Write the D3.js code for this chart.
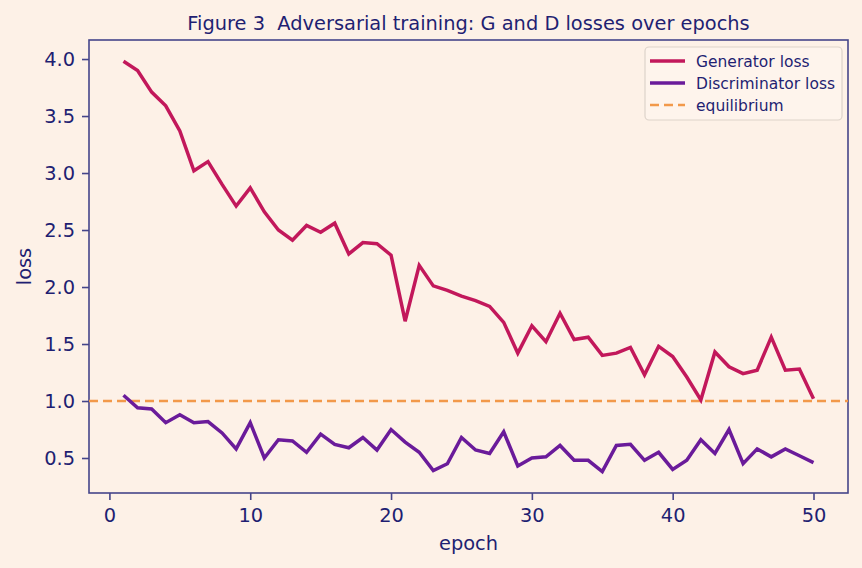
<!DOCTYPE html>
<html>
<head>
<meta charset="utf-8">
<script src="https://cdn.jsdelivr.net/npm/d3@7"></script>
<style>
  html, body { margin: 0; padding: 0; background: #fdf1e7; }
  svg { display: block; font-family: "DejaVu Sans", sans-serif; }
</style>
</head>
<body>
<svg id="chart" width="862" height="568"></svg>
<script>
const epochs = d3.range(1, 51);
const generatorLoss = [3.98, 3.90, 3.71, 3.59, 3.37, 3.02, 3.10, 2.90, 2.71, 2.87,
  2.66, 2.50, 2.41, 2.54, 2.48, 2.56, 2.29, 2.39, 2.38, 2.28,
  1.70, 2.19, 2.01, 1.97, 1.92, 1.88, 1.83, 1.69, 1.42, 1.66,
  1.52, 1.77, 1.54, 1.56, 1.40, 1.42, 1.47, 1.23, 1.48, 1.39,
  1.21, 1.01, 1.43, 1.30, 1.24, 1.27, 1.56, 1.27, 1.28, 1.02];
const discriminatorLoss = [1.05, 0.94, 0.93, 0.81, 0.88, 0.81, 0.82, 0.72, 0.58, 0.81,
  0.50, 0.66, 0.65, 0.55, 0.71, 0.62, 0.59, 0.68, 0.57, 0.75,
  0.64, 0.55, 0.39, 0.45, 0.68, 0.57, 0.54, 0.73, 0.43, 0.50,
  0.51, 0.61, 0.48, 0.48, 0.38, 0.61, 0.62, 0.48, 0.55, 0.40,
  0.48, 0.66, 0.54, 0.75, 0.45, 0.58, 0.51, 0.58, 0.52, 0.46];
const equilibrium = 1.0;
const xTicks = [0, 10, 20, 30, 40, 50];
const yTicks = [0.5, 1.0, 1.5, 2.0, 2.5, 3.0, 3.5, 4.0];
const seriesNames = ["Generator loss", "Discriminator loss", "equilibrium"];
const titleText = "Figure 3  Adversarial training: G and D losses over epochs";

const W = 862, H = 568;
const m = { left: 89, right: 848, top: 40, bottom: 493 };
const textColor = "#1f1f72";
const spineColor = "#45458a";
const genColor = "#c2185b";
const discColor = "#6a1b9a";
const eqColor = "#f2994a";
const bg = "#fdf1e7";

const svg = d3.select("#chart");
svg.append("rect").attr("width", W).attr("height", H).attr("fill", bg);

const x = d3.scaleLinear().domain([-1.45, 52.45]).range([m.left, m.right]);
const y = d3.scaleLinear().domain([0.193, 4.167]).range([m.bottom, m.top]);

// axes
const xAxis = d3.axisBottom(x).tickValues(xTicks).tickFormat(d3.format("d")).tickSize(7).tickPadding(8);
const yAxis = d3.axisLeft(y).tickValues(yTicks).tickFormat(d3.format(".1f")).tickSize(7).tickPadding(7);

const gx = svg.append("g").attr("transform", `translate(0,${m.bottom})`).call(xAxis);
const gy = svg.append("g").attr("transform", `translate(${m.left},0)`).call(yAxis);
[gx, gy].forEach(g => {
  g.select(".domain").remove();
  g.selectAll(".tick line").attr("stroke", spineColor).attr("stroke-width", 1.6);
  g.selectAll(".tick text").attr("fill", textColor).style("font-size", "19.4px")
    .style("font-family", "DejaVu Sans, sans-serif");
});

// frame
svg.append("rect")
  .attr("x", m.left).attr("y", m.top)
  .attr("width", m.right - m.left).attr("height", m.bottom - m.top)
  .attr("fill", "none").attr("stroke", spineColor).attr("stroke-width", 1.6);

// clip
svg.append("clipPath").attr("id", "clip").append("rect")
  .attr("x", m.left).attr("y", m.top).attr("width", m.right - m.left).attr("height", m.bottom - m.top);
const plot = svg.append("g").attr("clip-path", "url(#clip)");

// equilibrium
plot.append("line")
  .attr("x1", m.left).attr("x2", m.right)
  .attr("y1", y(equilibrium)).attr("y2", y(equilibrium))
  .attr("stroke", eqColor).attr("stroke-width", 2.4).attr("stroke-dasharray", "9,5");

const line = d3.line().x((d, i) => x(epochs[i])).y(d => y(d));
plot.append("path").datum(discriminatorLoss).attr("d", line)
  .attr("fill", "none").attr("stroke", discColor).attr("stroke-width", 3.5).attr("stroke-linejoin", "miter");
plot.append("path").datum(generatorLoss).attr("d", line)
  .attr("fill", "none").attr("stroke", genColor).attr("stroke-width", 3.5).attr("stroke-linejoin", "miter");

// title & labels
svg.append("text").attr("x", (m.left + m.right) / 2).attr("y", 30)
  .attr("text-anchor", "middle").attr("fill", textColor).style("font-size", "19.4px")
  .style("white-space", "pre").attr("xml:space", "preserve").text(titleText);
svg.append("text").attr("x", (m.left + m.right) / 2).attr("y", 550)
  .attr("text-anchor", "middle").attr("fill", textColor).style("font-size", "19.4px").text("epoch");
svg.append("text").attr("transform", `translate(31,${(m.top + m.bottom) / 2}) rotate(-90)`)
  .attr("text-anchor", "middle").attr("fill", textColor).style("font-size", "19.4px").text("loss");

// legend
const lg = svg.append("g");
lg.append("rect").attr("x", 645).attr("y", 47).attr("width", 197).attr("height", 73)
  .attr("rx", 4).attr("fill", "#fef4ec").attr("stroke", "#ddd3ca").attr("stroke-width", 1.2);
const rows = [
  { name: seriesNames[0], color: genColor, dash: null, w: 3.5 },
  { name: seriesNames[1], color: discColor, dash: null, w: 3.5 },
  { name: seriesNames[2], color: eqColor, dash: "9,5", w: 2.4 }
];
rows.forEach((r, i) => {
  const yy = 61 + i * 22;
  lg.append("line").attr("x1", 650).attr("x2", 685).attr("y1", yy).attr("y2", yy)
    .attr("stroke", r.color).attr("stroke-width", r.w).attr("stroke-dasharray", r.dash);
  lg.append("text").attr("x", 696).attr("y", yy + 5.5).attr("fill", textColor)
    .style("font-size", "15.5px").text(r.name);
});
</script>
</body>
</html>
